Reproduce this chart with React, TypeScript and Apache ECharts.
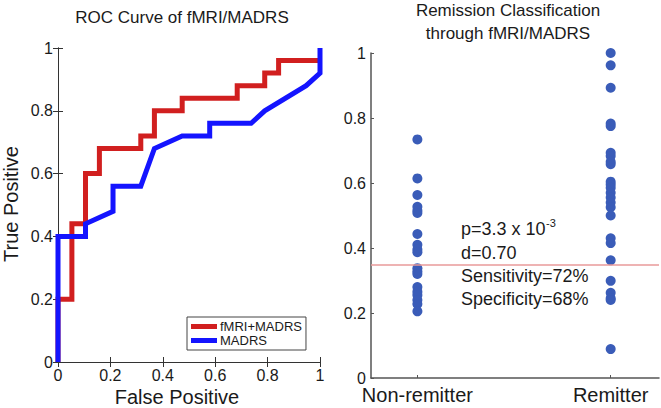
import React, { useEffect, useRef } from "react";
import * as echarts from "echarts";

const rocCombined: [number, number][] = [
  [0, 0], [0, 0.2], [0.053, 0.2], [0.053, 0.44], [0.105, 0.44], [0.105, 0.6],
  [0.158, 0.6], [0.158, 0.68], [0.316, 0.68], [0.316, 0.72], [0.368, 0.72],
  [0.368, 0.8], [0.474, 0.8], [0.474, 0.84], [0.684, 0.84], [0.684, 0.88],
  [0.789, 0.88], [0.789, 0.92], [0.842, 0.92], [0.842, 0.96], [1, 0.96],
];
const rocMadrs: [number, number][] = [
  [0, 0], [0, 0.4], [0.105, 0.4], [0.105, 0.44], [0.21, 0.48], [0.21, 0.56],
  [0.316, 0.56], [0.368, 0.68], [0.474, 0.72], [0.579, 0.72], [0.579, 0.76],
  [0.737, 0.76], [0.789, 0.8], [0.947, 0.88], [1, 0.92], [1, 1],
];
const groups = ["Non-remitter", "Remitter"];
const nonRemitter = [
  0.734, 0.614, 0.563, 0.527, 0.515, 0.508, 0.443, 0.41, 0.395, 0.387, 0.338,
  0.328, 0.32, 0.28, 0.265, 0.255, 0.24, 0.228, 0.205,
];
const remitter = [
  1.0, 0.962, 0.893, 0.783, 0.775, 0.693, 0.683, 0.665, 0.658, 0.604, 0.595,
  0.585, 0.57, 0.555, 0.54, 0.525, 0.5, 0.43, 0.415, 0.362, 0.299, 0.262,
  0.245, 0.24, 0.089,
];
const threshold = 0.355;
const statLines = ["d=0.70", "Sensitivity=72%", "Specificity=68%"];

const FONT = "'Liberation Sans', Arial, sans-serif";
const TXT = "#1a1a1a";

export default function App() {
  const ref = useRef<HTMLDivElement>(null);
  useEffect(() => {
    if (!ref.current) return;
    const chart = echarts.init(ref.current, undefined, { renderer: "svg" });
    const boxLine = { show: true, lineStyle: { color: "#333", width: 1 } };
    const tickIn = { show: true, inside: true, length: 5, lineStyle: { color: "#333" } };
    const scatterData = [
      ...nonRemitter.map((v) => [1, v]),
      ...remitter.map((v) => [2, v]),
    ];
    chart.setOption({
      animation: false,
      textStyle: { fontFamily: FONT },
      grid: [
        { left: 58, top: 48, width: 262, height: 314 },
        { left: 371, top: 53, width: 288, height: 325 },
      ],
      xAxis: [
        {
          gridIndex: 0, type: "value", min: 0, max: 1, interval: 0.2, position: "bottom",
          axisLine: boxLine, axisTick: tickIn, splitLine: { show: false },
          axisLabel: { fontSize: 16, color: TXT, margin: 5, fontFamily: FONT },
        },
        {
          gridIndex: 0, type: "value", min: 0, max: 1, interval: 0.2, position: "top",
          axisLine: boxLine, axisTick: tickIn, splitLine: { show: false },
          axisLabel: { show: false },
        },
        {
          gridIndex: 1, type: "value", min: 0.76, max: 2.25, position: "bottom",
          axisLine: { show: true, lineStyle: { color: "#555", width: 1.5 } },
          axisTick: { show: true, inside: true, length: 3, customValues: [1, 2], lineStyle: { color: "#555" } },
          splitLine: { show: false },
          axisLabel: {
            customValues: [1, 2], fontSize: 20, color: TXT, margin: 7, fontFamily: FONT,
            formatter: (v: number) => groups[Math.round(v) - 1] ?? "",
          },
        },
      ],
      yAxis: [
        {
          gridIndex: 0, type: "value", min: 0, max: 1, interval: 0.2, position: "left",
          axisLine: boxLine, axisTick: tickIn, splitLine: { show: false },
          axisLabel: { fontSize: 16, color: TXT, margin: 5, fontFamily: FONT },
        },
        {
          gridIndex: 0, type: "value", min: 0, max: 1, interval: 0.2, position: "right",
          axisLine: boxLine, axisTick: tickIn, splitLine: { show: false },
          axisLabel: { show: false },
        },
        {
          gridIndex: 1, type: "value", min: 0, max: 1, interval: 0.2, position: "left",
          axisLine: { show: true, lineStyle: { color: "#555", width: 1.5 } },
          axisTick: { show: true, inside: true, length: 3, lineStyle: { color: "#555" } },
          splitLine: { show: false },
          axisLabel: { fontSize: 16, color: TXT, margin: 5, fontFamily: FONT },
        },
      ],
      legend: {
        orient: "vertical", left: 187, top: 317, padding: [3, 4, 3, 4], itemGap: 1,
        itemWidth: 26, itemHeight: 5, backgroundColor: "#fff",
        borderColor: "#444", borderWidth: 1, borderRadius: 0,
        textStyle: { fontSize: 13, color: TXT, fontFamily: FONT, padding: [0, 0, 0, -2] },
        data: [
          { name: "fMRI+MADRS", icon: "rect" },
          { name: "MADRS", icon: "rect" },
        ],
      },
      series: [
        {
          name: "fMRI+MADRS", type: "line", xAxisIndex: 0, yAxisIndex: 0,
          data: rocCombined, symbol: "none", clip: false, color: "#d11f1f",
          lineStyle: { width: 5, color: "#d11f1f", join: "miter" },
        },
        {
          name: "MADRS", type: "line", xAxisIndex: 0, yAxisIndex: 0,
          data: rocMadrs, symbol: "none", clip: false, color: "#1414ff",
          lineStyle: { width: 5, color: "#1414ff", join: "miter" },
        },
        {
          name: "scores", type: "scatter", xAxisIndex: 2, yAxisIndex: 2,
          data: scatterData, symbolSize: 10, itemStyle: { color: "#3a5cb8", opacity: 1 },
          markLine: {
            silent: true, symbol: "none", label: { show: false },
            lineStyle: { color: "#e89a9a", width: 1.5, type: "solid" },
            data: [{ yAxis: threshold }],
          },
        },
      ],
      graphic: [
        {
          type: "text", x: 182, y: 17,
          style: { text: "ROC Curve of fMRI/MADRS", font: `17px ${FONT}`, fill: TXT, align: "center", verticalAlign: "middle" },
        },
        {
          type: "text", x: 508, y: 10,
          style: { text: "Remission Classification", font: `17px ${FONT}`, fill: TXT, align: "center", verticalAlign: "middle" },
        },
        {
          type: "text", x: 508, y: 33,
          style: { text: "through fMRI/MADRS", font: `17px ${FONT}`, fill: TXT, align: "center", verticalAlign: "middle" },
        },
        {
          type: "text", x: 177, y: 397,
          style: { text: "False Positive", font: `20px ${FONT}`, fill: TXT, align: "center", verticalAlign: "middle" },
        },
        {
          type: "text", x: 11, y: 204, rotation: Math.PI / 2,
          style: { text: "True Positive", font: `20px ${FONT}`, fill: TXT, align: "center", verticalAlign: "middle" },
        },
        {
          type: "text", x: 461, y: 229,
          style: { text: "p=3.3 x 10", font: `18px ${FONT}`, fill: TXT, align: "left", verticalAlign: "middle" },
        },
        {
          type: "text", x: 546, y: 223,
          style: { text: "-3", font: `11px ${FONT}`, fill: TXT, align: "left", verticalAlign: "middle" },
        },
        ...statLines.map((t, i) => ({
          type: "text", x: 461, y: 253 + i * 23,
          style: { text: t, font: `18px ${FONT}`, fill: TXT, align: "left", verticalAlign: "middle" },
        })),
      ],
    });
    return () => chart.dispose();
  }, []);
  return (
    <div
      ref={ref}
      style={{ position: "fixed", left: 0, top: 0, width: 661, height: 408, background: "#fff" }}
    />
  );
}
